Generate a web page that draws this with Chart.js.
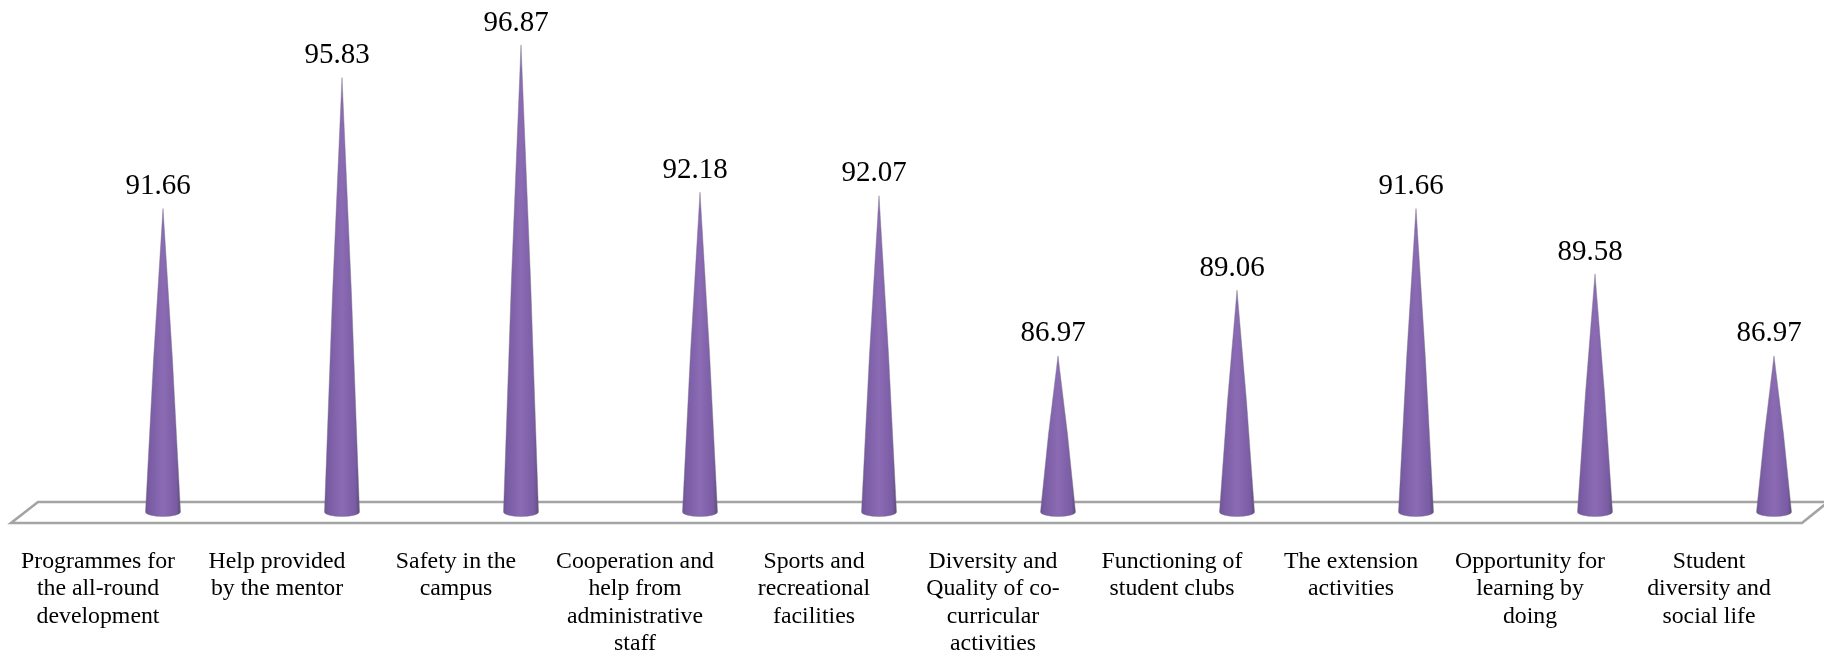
<!DOCTYPE html>
<html>
<head>
<meta charset="utf-8">
<title>Student satisfaction</title>
<script src="https://cdn.jsdelivr.net/npm/chart.js@4"></script>
<style>
    html, body { margin: 0; padding: 0; background: #fff; overflow: hidden; }
    canvas { display: block; }
</style>
</head>
<body>
<canvas id="coneChart" width="1824" height="655"></canvas>
<script>
const categories = [
    ['Programmes for', 'the all-round', 'development'],
    ['Help provided', 'by the mentor'],
    ['Safety in the', 'campus'],
    ['Cooperation and', 'help from', 'administrative', 'staff'],
    ['Sports and', 'recreational', 'facilities'],
    ['Diversity and', 'Quality of co-', 'curricular', 'activities'],
    ['Functioning of', 'student clubs'],
    ['The extension', 'activities'],
    ['Opportunity for', 'learning by', 'doing'],
    ['Student', 'diversity and', 'social life']
];
const values = [91.66, 95.83, 96.87, 92.18, 92.07, 86.97, 89.06, 91.66, 89.58, 86.97];
const axisMin = 82;
const axisMax = 98.3;

const serif = '"Liberation Serif", "Times New Roman", serif';

// Floor of the 3D plot, placed relative to the plot area
const floorPlugin = {
    id: 'floor',
    beforeDatasetsDraw(chart) {
        const { ctx, chartArea, width } = chart;
        const base = chartArea.bottom;
        const frontLeft = chartArea.left - 152;
        const backLeft = chartArea.left - 125;
        const frontRight = chartArea.right + 28;
        ctx.save();
        ctx.strokeStyle = '#a4a4a4';
        ctx.lineWidth = 2.6;
        ctx.lineJoin = 'miter';
        ctx.beginPath();
        ctx.moveTo(width + 4, base - 10);
        ctx.lineTo(backLeft, base - 10);
        ctx.lineTo(frontLeft, base + 11);
        ctx.lineTo(frontRight, base + 11);
        ctx.lineTo(width + 4, base - 10);
        ctx.stroke();
        ctx.restore();
    }
};

// Turns each bar into a shaded cone and writes its value above the tip
const conePlugin = {
    id: 'cones',
    afterDatasetsDraw(chart) {
        const { ctx } = chart;
        const meta = chart.getDatasetMeta(0);
        ctx.save();
        meta.data.forEach((bar, i) => {
            const halfW = bar.width / 2;
            const midY = (bar.y + bar.base) / 2;
            const bow = halfW / 2 + 1.5;

            const side = ctx.createLinearGradient(bar.x - halfW, 0, bar.x + halfW, 0);
            side.addColorStop(0, '#6f5396');
            side.addColorStop(0.12, '#7a5ca4');
            side.addColorStop(0.5, '#8a6bb4');
            side.addColorStop(0.88, '#7a5ca4');
            side.addColorStop(1, '#5f4c7d');

            ctx.beginPath();
            ctx.moveTo(bar.x, bar.y);
            ctx.quadraticCurveTo(bar.x + bow, midY, bar.x + halfW, bar.base);
            ctx.ellipse(bar.x, bar.base, halfW, 4.5, 0, 0, Math.PI);
            ctx.quadraticCurveTo(bar.x - bow, midY, bar.x, bar.y);
            ctx.closePath();
            ctx.fillStyle = side;
            ctx.fill();
            ctx.strokeStyle = 'rgba(120,115,130,0.55)';
            ctx.lineWidth = 0.8;
            ctx.stroke();

            ctx.fillStyle = '#000';
            ctx.font = '29px ' + serif;
            ctx.textAlign = 'center';
            ctx.textBaseline = 'middle';
            ctx.fillText(values[i].toFixed(2), bar.x - 5, bar.y - 22);
        });
        ctx.restore();
    }
};

new Chart(document.getElementById('coneChart').getContext('2d'), {
    type: 'bar',
    data: {
        labels: categories,
        datasets: [{
            data: values,
            base: axisMin,
            backgroundColor: 'rgba(0,0,0,0)',
            borderWidth: 0,
            barThickness: 35
        }]
    },
    options: {
        responsive: false,
        animation: false,
        layout: { padding: { left: 163, right: 50, top: 0, bottom: 0 } },
        plugins: {
            legend: { display: false },
            tooltip: { enabled: false }
        },
        scales: {
            x: {
                offset: false,
                grid: { display: false },
                border: { display: false },
                ticks: {
                    autoSkip: false,
                    maxRotation: 0,
                    minRotation: 0,
                    labelOffset: -65,
                    padding: 28,
                    color: '#000',
                    font: { family: serif, size: 23.8, lineHeight: 1.15 }
                },
                afterFit(scale) {
                    scale.height = 143;
                    scale.paddingLeft = 0;
                    scale.paddingRight = 0;
                }
            },
            y: {
                display: false,
                min: axisMin,
                max: axisMax
            }
        }
    },
    plugins: [floorPlugin, conePlugin]
});
</script>
</body>
</html>
